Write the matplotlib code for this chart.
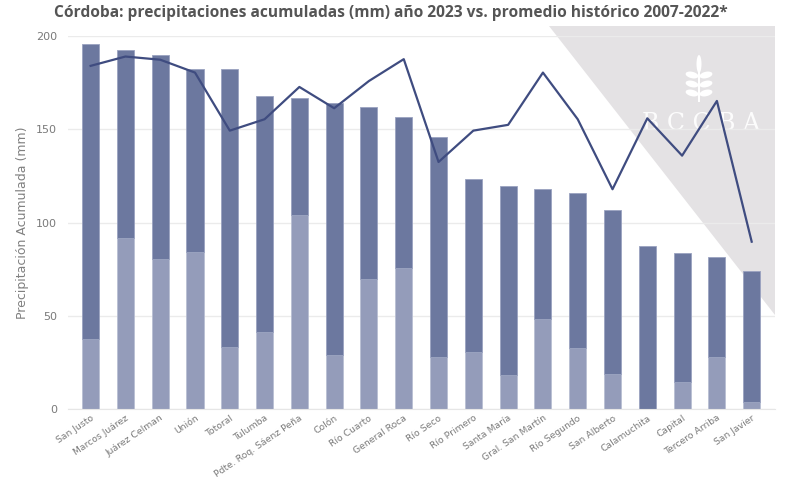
import matplotlib
matplotlib.use("Agg")
import matplotlib.pyplot as plt
import numpy as np
from matplotlib.patches import Polygon, Ellipse

departamentos = ["San Justo", "Marcos Juárez", "Juárez Celman", "Unión", "Totoral",
                 "Tulumba", "Pdte. Roq. Sáenz Peña", "Colón", "Río Cuarto", "General Roca",
                 "Río Seco", "Río Primero", "Santa María", "Gral. San Martín", "Río Segundo",
                 "San Alberto", "Calamuchita", "Capital", "Tercero Arriba", "San Javier"]
total_2023 = [195.8, 192.5, 189.8, 182.2, 182.2, 167.7, 166.8, 164.2, 162.2, 156.5,
              145.8, 123.4, 119.7, 118.1, 115.8, 106.7, 87.7, 83.6, 81.8, 74.0]
parcial_2023 = [37.7, 91.8, 80.7, 84.3, 33.2, 41.6, 104.0, 29.1, 70.0, 75.6,
                27.9, 30.5, 18.5, 48.4, 32.9, 19.1, 0.0, 14.6, 28.0, 3.9]
promedio_hist = [184.0, 189.0, 187.3, 180.4, 149.3, 155.4, 172.7, 161.3, 175.9, 187.6,
                 132.5, 149.3, 152.4, 180.4, 155.4, 117.9, 155.9, 135.9, 165.2, 89.8]
yticks = [0, 50, 100, 150, 200]

W, H = 786, 480
fig = plt.figure(figsize=(W / 100, H / 100), dpi=100)
fig.patch.set_facecolor("white")
ax = fig.add_axes([68 / W, 1 - 409.3 / H, (775 - 68) / W, (409.3 - 36) / H])
ax.set_facecolor("none")
ax.set_zorder(2)


def fx(px):
    return px / W


def fy(py):
    return 1 - py / H


# gray triangle background (figure coords)
tri = Polygon([(fx(549), fy(26)), (fx(775), fy(26)), (fx(775), fy(315))],
              closed=True, transform=fig.transFigure, facecolor="#e4e2e4",
              edgecolor="none", zorder=-3)
fig.patches.append(tri)

# watermark
fig.text(fx(701), fy(123), "B C C B A", transform=fig.transFigure, ha="center",
         va="center", fontsize=17, family="DejaVu Serif", color="white", alpha=0.9,
         zorder=-2)
cx = 699
fig.patches.append(Ellipse((fx(cx), fy(64)), 5 / W, 18 / H, transform=fig.transFigure,
                           facecolor="white", edgecolor="none", zorder=-2))
for yy in (75, 84, 93):
    for s in (-1, 1):
        e = Ellipse((fx(cx + s * 7), fy(yy)), 14 / W, 6 / H, angle=s * 35,
                    transform=fig.transFigure, facecolor="white", edgecolor="none",
                    zorder=-2)
        fig.patches.append(e)
fig.patches.append(Polygon([(fx(cx - 1), fy(70)), (fx(cx + 1), fy(70)),
                            (fx(cx + 1), fy(102)), (fx(cx - 1), fy(102))],
                           transform=fig.transFigure, facecolor="white", edgecolor="none",
                           zorder=-2))

x = np.arange(len(departamentos))
parcial = np.array(parcial_2023)
resto = np.array(total_2023) - parcial
bw = 0.49
ax.bar(x, parcial, width=bw, color="#949cba", edgecolor="#b9bfd3", linewidth=0.6, zorder=2)
ax.bar(x, resto, bottom=parcial, width=bw, color="#6c789f", edgecolor="#9aa2c0",
       linewidth=0.6, zorder=2)
ax.plot(x, promedio_hist, color="#3f4c80", linewidth=1.6, zorder=3)

ax.set_xlim(-0.65, len(departamentos) - 0.33)
ax.set_ylim(0, 200)
ax.set_yticks(yticks)
ax.set_yticklabels([str(v) for v in yticks])
ax.yaxis.grid(True, color="#ebebeb", linewidth=1.0, zorder=0)
ax.set_axisbelow(True)
for sp in ["top", "right", "left"]:
    ax.spines[sp].set_visible(False)
ax.spines["bottom"].set_color("#e6e6e6")
ax.tick_params(axis="y", length=0, labelsize=8, labelcolor="#7a7a7a", pad=8)
ax.tick_params(axis="x", length=0, labelsize=6.7, labelcolor="#7a7a7a", pad=3)
ax.set_xticks(x)
ax.set_xticklabels(departamentos, rotation=34, ha="right", rotation_mode="anchor")
ax.set_ylabel("Precipitación Acumulada (mm)", fontsize=9, color="#808080", labelpad=5)

fig.text(fx(391), fy(13),
         "Córdoba: precipitaciones acumuladas (mm) año 2023 vs. promedio histórico 2007-2022*",
         ha="center", va="center", fontsize=11.2, fontweight="bold", color="#555555",
         family="Open Sans")

fig.savefig("out.png", dpi=100, facecolor="white")
